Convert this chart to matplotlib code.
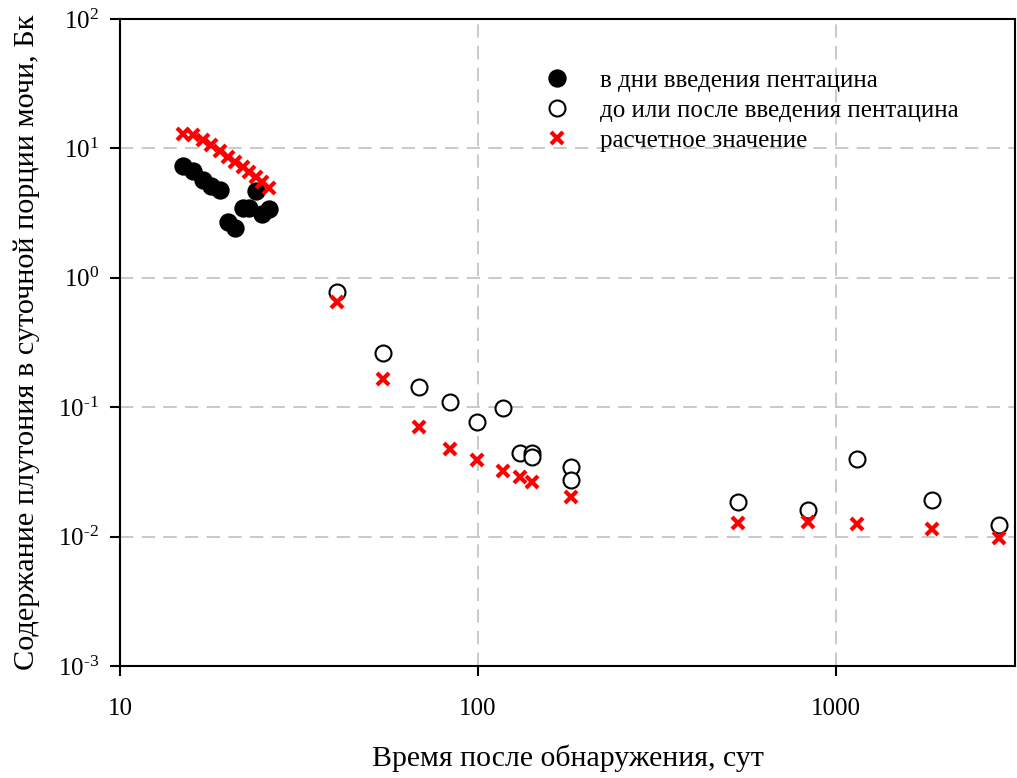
import matplotlib
matplotlib.use("Agg")
import math
import matplotlib.pyplot as plt
from matplotlib.ticker import FixedLocator, FuncFormatter, NullLocator

plt.rcParams['font.family'] = ['Liberation Serif', 'DejaVu Serif']
plt.rcParams['mathtext.default'] = 'regular'
plt.rcParams['mathtext.fontset'] = 'custom'
plt.rcParams['mathtext.rm'] = 'Liberation Serif'

# Filled circles: days of pentacine administration
days_filled = [15, 16, 17, 18, 19, 20, 21, 22, 23, 24, 25, 26]
pu_filled = [7.3, 6.7, 5.7, 5.1, 4.77, 2.7, 2.43, 3.46, 3.46, 4.69, 3.11, 3.4]

# Open circles: before/after pentacine
days_open = [40.4, 54.3, 68.4, 83.5, 99.3, 117.4, 131, 141.5, 141.5, 182, 182,
             532, 837, 1147, 1858, 2851]
pu_open = [0.776, 0.262, 0.143, 0.110, 0.0769, 0.0987, 0.0440, 0.0445, 0.0414,
           0.0344, 0.0273, 0.0185, 0.0161, 0.0395, 0.0192, 0.0123]

# Red crosses: calculated values
days_calc = [15, 16, 17, 18, 19, 20, 21, 22, 23, 24, 25, 26,
             40.4, 54.3, 68.4, 83.5, 99.3, 117.4, 131, 141.5, 182,
             532, 837, 1147, 1858, 2851]
pu_calc = [12.9, 12.7, 11.6, 10.6, 9.55, 8.6, 7.86, 7.18, 6.57, 6.02, 5.5, 4.94,
           0.653, 0.165, 0.0706, 0.0475, 0.0391, 0.0323, 0.0287, 0.0263, 0.0201,
           0.0127, 0.0129, 0.0125, 0.01145, 0.0097]

legend_labels = ['в дни введения пентацина',
                 'до или после введения пентацина',
                 'расчетное значение']
xlabel = 'Время после обнаружения, сут'
ylabel = 'Содержание плутония в суточной порции мочи, Бк'

fig = plt.figure(figsize=(10.17, 7.78), dpi=100)
ax = fig.add_axes([0.118, 0.144, 0.880, 0.8316])

ax.set_xscale('log')
ax.set_yscale('log')
ax.set_xlim(10, 10 ** 3.5)
ax.set_ylim(1e-3, 1e2)

ax.plot(days_filled, pu_filled, 'o', ms=12, mfc='black', mec='black',
        mew=1.2, ls='none', label=legend_labels[0], zorder=3)
ax.plot(days_open, pu_open, 'o', ms=11.5, mfc='white', mec='black',
        mew=1.5, ls='none', label=legend_labels[1], zorder=3)
ax.plot(days_calc, pu_calc, 'x', ms=9, mec='#ff0000', mew=3.0,
        ls='none', label=legend_labels[2], zorder=4)


def ylab(v, p):
    e = int(round(math.log10(v)))
    if e < 0:
        return r'$10^{\text{-}%d}$' % (-e)
    return r'$10^{%d}$' % e


ax.xaxis.set_major_locator(FixedLocator([10, 100, 1000]))
ax.xaxis.set_minor_locator(NullLocator())
ax.xaxis.set_major_formatter(FuncFormatter(lambda v, p: '%d' % round(v)))
yt = [1e-3, 1e-2, 1e-1, 1e0, 1e1, 1e2]
ax.yaxis.set_major_locator(FixedLocator(yt))
ax.yaxis.set_minor_locator(NullLocator())
ax.yaxis.set_major_formatter(FuncFormatter(ylab))

ax.grid(True, which='major', color='#c0c0c0', ls=(0, (8, 5)), lw=1.2)
ax.set_axisbelow(True)
for s in ax.spines.values():
    s.set_linewidth(1.5)
    s.set_color('black')
ax.tick_params(which='major', direction='out', length=7, width=1.5,
               labelsize=18, colors='black')
ax.tick_params(axis='x', pad=16)
ax.tick_params(axis='y', pad=8)

ax.set_xlabel(xlabel, fontsize=21.5, labelpad=18)
ax.set_ylabel(ylabel, fontsize=21.8)
ax.yaxis.set_label_coords(-0.089, 0.5)

leg = ax.legend(loc='upper left', bbox_to_anchor=(0.46, 0.938), frameon=False,
                fontsize=18, handletextpad=1.15, labelspacing=0.3,
                handlelength=1.2, borderaxespad=0)

fig.savefig('out.png', dpi=100)
